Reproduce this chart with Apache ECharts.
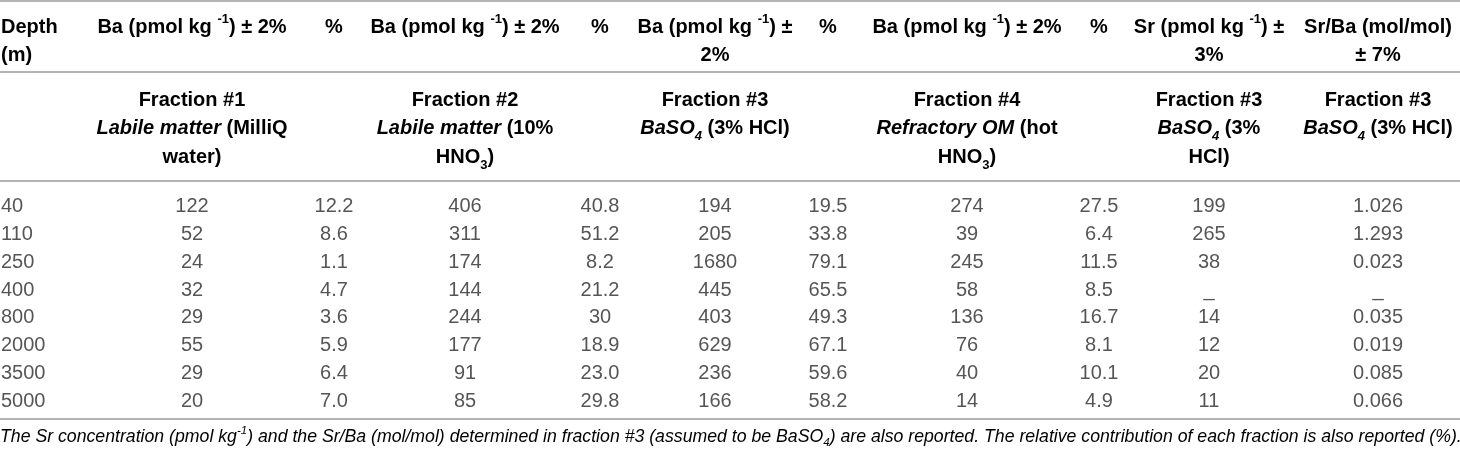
<!DOCTYPE html>
<html>
<head>
<meta charset="utf-8">
<title>Ba fractions table</title>
<script src="https://cdn.jsdelivr.net/npm/echarts@6/dist/echarts.min.js"></script>
<style>
html,body{margin:0;padding:0;background:#fff;}
#table{width:1460px;height:453px;}
</style>
</head>
<body>
<div id="table"></div>
<script>
// table values, row by row (depth)
var depths = ['40', '110', '250', '400', '800', '2000', '3500', '5000'];
var ba1  = [122, 52, 24, 32, 29, 55, 29, 20];
var pct1 = ['12.2', '8.6', '1.1', '4.7', '3.6', '5.9', '6.4', '7.0'];
var ba2  = [406, 311, 174, 144, 244, 177, 91, 85];
var pct2 = ['40.8', '51.2', '8.2', '21.2', '30', '18.9', '23.0', '29.8'];
var ba3  = [194, 205, 1680, 445, 403, 629, 236, 166];
var pct3 = ['19.5', '33.8', '79.1', '65.5', '49.3', '67.1', '59.6', '58.2'];
var ba4  = [274, 39, 245, 58, 136, 76, 40, 14];
var pct4 = ['27.5', '6.4', '11.5', '8.5', '16.7', '8.1', '10.1', '4.9'];
var sr   = [199, 265, 38, null, 14, 12, 20, 11];
var srBa = ['1.026', '1.293', '0.023', null, '0.035', '0.019', '0.085', '0.066'];

// column layout (centre x of each column, depth column is left aligned)
var colX = [1, 192, 334, 465, 600, 715, 828, 967, 1099, 1209, 1378];
var columns = [depths, ba1, pct1, ba2, pct2, ba3, pct3, ba4, pct4, sr, srBa];

var FONT = '"Liberation Sans", Arial, Helvetica, sans-serif';
var HEAD = '#222';
var BODY = '#2b2b2b';
var RULE = '#b4b4b4';

var myChart = echarts.init(document.getElementById('table'));

//一列一个 series
var series = [];
for (var c = 0; c < columns.length; c++) {
	var data = [];
	for (var r = 0; r < depths.length; r++) {
		var v = columns[c][r];
		data.push({
			name: (v === null || v === undefined) ? '_' : String(v),
			value: [colX[c], depths[r]]
		});
	}
	series.push({
		type: 'scatter',
		symbolSize: 0,
		silent: true,
		data: data,
		label: {
			show: true,
			position: 'inside',
			formatter: '{b}',
			align: c === 0 ? 'left' : 'center',
			fontFamily: FONT,
			fontSize: 20,
			color: BODY
		}
	});
}

// rich text styles for headers
var headRich = {
	b: {fontFamily: FONT, fontSize: 20, fontWeight: 'bold', color: HEAD, lineHeight: 28.5},
	bi: {fontFamily: FONT, fontSize: 20, fontWeight: 'bold', fontStyle: 'italic', color: HEAD, lineHeight: 28.5},
	sup: {fontFamily: FONT, fontSize: 13, fontWeight: 'bold', color: HEAD, lineHeight: 19, verticalAlign: 'top'},
	sub: {fontFamily: FONT, fontSize: 13, fontWeight: 'bold', color: HEAD, lineHeight: 16, verticalAlign: 'bottom'},
	subi: {fontFamily: FONT, fontSize: 13, fontWeight: 'bold', fontStyle: 'italic', color: HEAD, lineHeight: 16, verticalAlign: 'bottom'}
};
var footRich = {
	i: {fontFamily: FONT, fontSize: 17.7, fontStyle: 'italic', color: '#444', lineHeight: 24},
	sup: {fontFamily: FONT, fontSize: 11.5, fontStyle: 'italic', color: '#444', lineHeight: 15, verticalAlign: 'top'},
	sub: {fontFamily: FONT, fontSize: 11.5, fontStyle: 'italic', color: '#444', lineHeight: 14, verticalAlign: 'bottom'}
};

var baHead = '{b|Ba (pmol kg }{sup|-1}{b|) ± 2%}';
var topHeads = [
	{x: 1, align: 'left', text: '{b|Depth}\n{b|(m)}'},
	{x: 192, text: baHead},
	{x: 334, text: '{b|%}'},
	{x: 465, text: baHead},
	{x: 600, text: '{b|%}'},
	{x: 715, text: '{b|Ba (pmol kg }{sup|-1}{b|) ±}\n{b|2%}'},
	{x: 828, text: '{b|%}'},
	{x: 967, text: baHead},
	{x: 1099, text: '{b|%}'},
	{x: 1209, text: '{b|Sr (pmol kg }{sup|-1}{b|) ±}\n{b|3%}'},
	{x: 1378, text: '{b|Sr/Ba (mol/mol)}\n{b|± 7%}'}
];
var subHeads = [
	{x: 192, text: '{b|Fraction #1}\n{bi|Labile matter}{b| (MilliQ}\n{b|water)}'},
	{x: 465, text: '{b|Fraction #2}\n{bi|Labile matter}{b| (10%}\n{b|HNO}{sub|3}{b|)}'},
	{x: 715, text: '{b|Fraction #3}\n{bi|BaSO}{subi|4}{b| (3% HCl)}'},
	{x: 967, text: '{b|Fraction #4}\n{bi|Refractory OM}{b| (hot}\n{b|HNO}{sub|3}{b|)}'},
	{x: 1209, text: '{b|Fraction #3}\n{bi|BaSO}{subi|4}{b| (3%}\n{b|HCl)}'},
	{x: 1378, text: '{b|Fraction #3}\n{bi|BaSO}{subi|4}{b| (3% HCl)}'}
];

var graphics = [];
function addText(list, top) {
	list.forEach(function (h) {
		graphics.push({
			type: 'text',
			silent: true,
			style: {
				x: h.x, y: top,
				text: h.text,
				rich: headRich,
				align: h.align || 'center',
				textAlign: h.align || 'center',
				verticalAlign: 'top',
				textVerticalAlign: 'top'
			}
		});
	});
}
addText(topHeads, 13);
addText(subHeads, 86);

// horizontal rules
[1, 72, 181, 419].forEach(function (y) {
	graphics.push({
		type: 'line', silent: true,
		shape: {x1: 0, y1: y, x2: 1460, y2: y},
		style: {stroke: RULE, lineWidth: 2}
	});
});

// footnote
graphics.push({
	type: 'text', silent: true,
	style: {
		x: 0, y: 425,
		text: '{i|The Sr concentration (pmol kg}{sup|-1}{i|) and the Sr/Ba (mol/mol) determined in fraction #3 (assumed to be BaSO}{sub|4}{i|) are also reported. The relative contribution of each fraction is also reported (%).}',
		rich: footRich,
		align: 'left', textAlign: 'left',
		verticalAlign: 'top', textVerticalAlign: 'top'
	}
});

option = {
	animation: false,
	backgroundColor: '#fff',
	grid: {left: 0, right: 0, top: 193, height: 222, containLabel: false},
	xAxis: {type: 'value', min: 0, max: 1460, show: false},
	yAxis: {type: 'category', data: depths, inverse: true, show: false},
	series: series,
	graphic: graphics
};

myChart.setOption(option);
window.onresize = myChart.resize;
</script>
</body>
</html>
